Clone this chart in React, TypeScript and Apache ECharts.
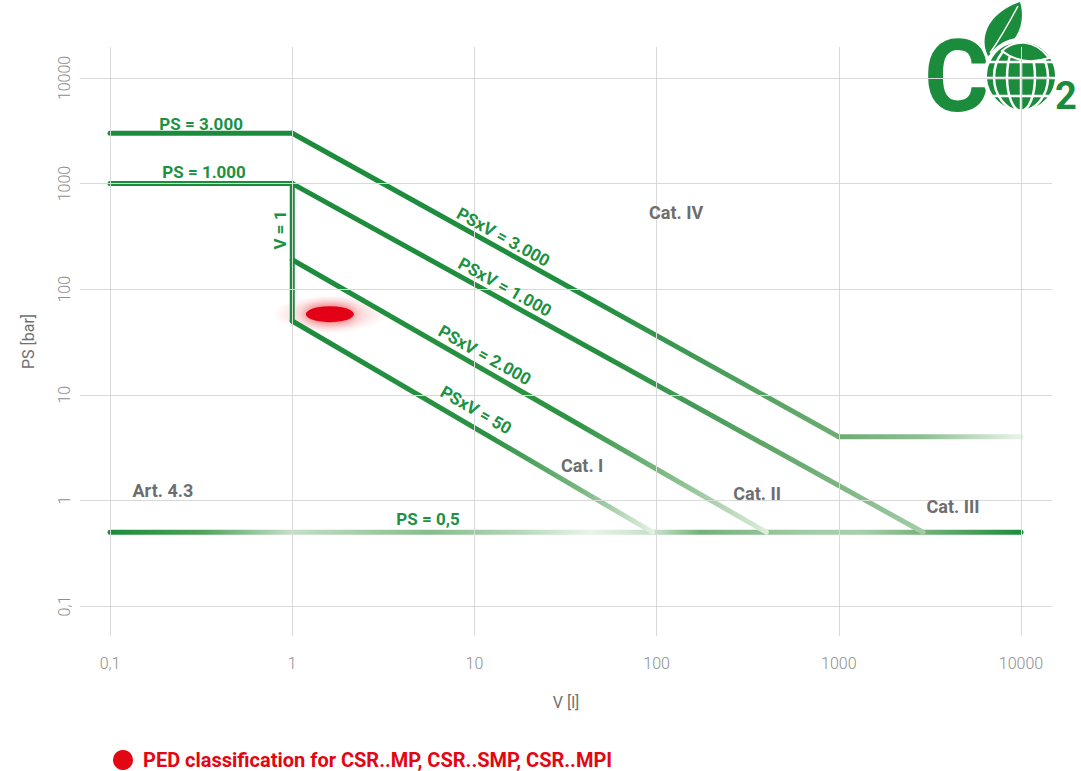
import React, { useEffect, useRef } from 'react';
import * as echarts from 'echarts';

// ---------- data ----------
const xTicks = [0.1, 1, 10, 100, 1000, 10000];
const yTicks = [0.1, 1, 10, 100, 1000, 10000];
const tickLabels = ['0,1', '1', '10', '100', '1000', '10000'];

// axis extents (log scale), a little wider than the tick range
const X_MIN = 0.0684;
const X_MAX = 14790;
const Y_MIN = 0.052;
const Y_MAX = 19660;

// boundary lines [V, PS]
const ps3000 = [[0.1, 3000], [1, 3000]];
const psv3000 = [[1, 3000], [1000, 4]];
const ps4 = [[1000, 4], [10000, 4]];
const ps1000 = [[0.1, 1000], [1, 1000]];
const psv1000 = [[1, 1000], [2900, 0.5]];
const v1 = [[1, 1000], [1, 50]];
const psv2000 = [[1, 190], [400, 0.5]];
const psv50 = [[1, 50], [95, 0.5]];
const ps05 = [[0.1, 0.5], [10000, 0.5]];

// green line labels: [name, V, PS, rotation]
const lineLabelNames = ['PS = 3.000', 'PS = 1.000', 'V = 1', 'PSxV = 3.000', 'PSxV = 1.000', 'PSxV = 2.000', 'PSxV = 50', 'PS = 0,5'];
const lineLabelV = [0.316, 0.328, 0.857, 14.4, 14.7, 11.4, 10.2, 5.56];
const lineLabelPS = [3665, 1288, 364, 312, 105, 23.8, 7.18, 0.667];
const lineLabelRot = [0, 0, 90, -29, -29, -29.5, -30, 0];

// category labels
const catNames = ['Cat. IV', 'Cat. I', 'Cat. II', 'Cat. III', 'Art. 4.3'];
const catV = [128, 39, 356, 4236, 0.195];
const catPS = [538, 2.16, 1.175, 0.885, 1.254];

// PED product classification point
const pedName = 'PED classification for CSR..MP, CSR..SMP, CSR..MPI';
const pedPoint = [[1.61, 58]];

// ---------- styles ----------
const GREEN = '#1b8c3c';
const LABEL_GREEN = '#1c9143';
const CAT_GRAY = '#6e6e6e';
const AXIS_GRAY = '#8e8e8e';
const GRID_GRAY = '#d9d9d9';
const RED = '#e30613';
const FONT = 'Roboto, sans-serif';

echarts.graphic.registerShape(
  'co2leaf',
  echarts.graphic.extendPath('M 988 56 C 978 36 990 12 1020 2 C 1027 26 1015 48 988 56 Z', {})
);
echarts.graphic.registerShape(
  'co2leaf2',
  echarts.graphic.extendPath('M 1002 51 C 1014 40 1034 38 1049 58 C 1031 64 1015 61 1002 51 Z', {})
);

const lg = (stops: [number, string][]) =>
  new echarts.graphic.LinearGradient(0, 0, 1, 0, stops.map(([offset, color]) => ({ offset, color })));
const lgGlobal = (x1: number, x2: number, stops: [number, string][]) =>
  new echarts.graphic.LinearGradient(x1, 0, x2, 0, stops.map(([offset, color]) => ({ offset, color })), true);

const seg = (data: number[][], color: any) => ({
  type: 'line',
  data,
  symbol: 'none',
  showSymbol: false,
  silent: true,
  z: 3,
  lineStyle: { width: 5, color, cap: 'round', join: 'round' },
  emphasis: { disabled: true },
});

const fmtTick = (v: number) => {
  const l = Math.log10(v);
  const r = Math.round(l);
  if (Math.abs(l - r) > 1e-6) return '';
  const i = xTicks.findIndex((t) => Math.abs(Math.log10(t) - r) < 1e-6);
  return i >= 0 ? tickLabels[i] : '';
};

export default function App() {
  const ref = useRef<HTMLDivElement>(null);
  useEffect(() => {
    if (!ref.current) return;
    const chart = echarts.init(ref.current, undefined, { renderer: 'svg' });
    const option: any = {
      animation: false,
      backgroundColor: '#ffffff',
      grid: { left: 80, right: 29, top: 47, bottom: 135 },
      xAxis: {
        type: 'log',
        logBase: 10,
        min: X_MIN,
        max: X_MAX,
        axisLine: { show: false },
        axisTick: { show: false },
        splitLine: { show: false },
        axisLabel: { formatter: fmtTick, color: AXIS_GRAY, fontSize: 16, fontWeight: 300, fontFamily: FONT, margin: 19 },
        name: 'V [l]',
        nameLocation: 'middle',
        nameGap: 58,
        nameTextStyle: { color: '#707070', fontSize: 16, fontFamily: FONT },
      },
      yAxis: {
        type: 'log',
        logBase: 10,
        min: Y_MIN,
        max: Y_MAX,
        axisLine: { show: false },
        axisTick: { show: false },
        splitLine: { show: false },
        axisLabel: { formatter: fmtTick, color: AXIS_GRAY, fontSize: 16, fontWeight: 300, fontFamily: FONT, rotate: 90, margin: 8 },
        name: 'PS [bar]',
        nameLocation: 'middle',
        nameGap: 44,
        nameTextStyle: { color: '#707070', fontSize: 16, fontFamily: FONT },
      },
      legend: {
        data: [{ name: pedName, icon: 'circle', itemStyle: { color: RED, opacity: 1, shadowBlur: 0, shadowColor: 'transparent' } }],
        left: 108,
        top: 745,
        itemWidth: 20,
        itemHeight: 20,
        selectedMode: false,
        textStyle: { color: RED, fontSize: 20, fontWeight: 'bold', fontFamily: FONT, padding: [0, 0, 0, 5] },
      },
      series: [
        {
          type: 'line',
          data: [],
          z: 1,
          silent: true,
          markLine: {
            silent: true,
            symbol: ['none', 'none'],
            label: { show: false },
            lineStyle: { color: GRID_GRAY, width: 1, type: 'solid' },
            emphasis: { disabled: true },
            data: [...xTicks.map((v) => ({ xAxis: v })), ...yTicks.map((v) => ({ yAxis: v }))],
          },
        },
        {
          type: 'scatter',
          data: pedPoint,
          z: 2,
          silent: true,
          symbol: 'circle',
          symbolSize: [116, 36],
          itemStyle: {
            opacity: 1,
            color: new echarts.graphic.RadialGradient(0.5, 0.5, 0.5, [
              { offset: 0, color: 'rgba(227,6,19,0.45)' },
              { offset: 0.5, color: 'rgba(227,6,19,0.15)' },
              { offset: 1, color: 'rgba(227,6,19,0)' },
            ]),
          },
        },
        {
          name: pedName,
          type: 'scatter',
          data: pedPoint,
          z: 2,
          silent: true,
          symbol: 'circle',
          symbolSize: [48, 16],
          itemStyle: { color: RED, opacity: 1, shadowBlur: 12, shadowColor: 'rgba(227,6,19,0.6)' },
        },
        seg(ps05, lgGlobal(110, 1021, [
          [0, GREEN], [0.1, '#4ea25a'], [0.198, '#c3dfc6'], [0.263, '#a9d1ad'], [0.351, '#86bd8b'],
          [0.45, '#b5d8b8'], [0.527, '#e8f4ea'], [0.6, '#c2dfc5'], [0.648, '#74b07a'], [0.69, '#85ba8a'],
          [0.757, '#9fcba3'], [0.823, '#a8cfac'], [0.895, '#73b079'], [1, GREEN],
        ])),
        seg(ps3000, GREEN),
        seg(psv3000, lg([[0, GREEN], [0.55, '#208e3f'], [1, '#6eac73']])),
        seg(ps4, lgGlobal(838, 1021, [[0, '#6eac73'], [0.45, '#8cbf90'], [1, '#e8f3e9']])),
        seg(ps1000, GREEN),
        seg(psv1000, lg([[0, GREEN], [0.5, '#258f40'], [0.8, '#6aaa70'], [1, '#a3cda7']])),
        seg(v1, GREEN),
        seg(psv2000, lg([[0, GREEN], [0.6, '#2f9444'], [0.8, '#85bd89'], [1, '#dcecdd']])),
        seg(psv50, lg([[0, GREEN], [0.55, '#2c9243'], [0.8, '#7ab780'], [1, '#e3f1e4']])),
        {
          type: 'scatter',
          z: 5,
          silent: true,
          symbolSize: 1,
          itemStyle: { color: 'rgba(0,0,0,0)', opacity: 1 },
          label: {
            show: true,
            position: 'inside',
            formatter: '{b}',
            color: LABEL_GREEN,
            opacity: 1,
            fontSize: 17,
            fontWeight: 'bold',
            fontFamily: FONT,
          },
          data: lineLabelNames.map((name, i) => ({
            name,
            value: [lineLabelV[i], lineLabelPS[i]],
            label: { rotate: lineLabelRot[i] },
          })),
        },
        {
          type: 'scatter',
          z: 5,
          silent: true,
          symbolSize: 1,
          itemStyle: { color: 'rgba(0,0,0,0)', opacity: 1 },
          label: {
            show: true,
            position: 'inside',
            formatter: '{b}',
            color: CAT_GRAY,
            opacity: 1,
            fontSize: 18,
            fontWeight: 'bold',
            fontFamily: FONT,
          },
          data: catNames.map((name, i) => ({ name, value: [catV[i], catPS[i]] })),
        },
      ],
      graphic: [
        {
          type: 'group',
          z: 10,
          children: [
            { type: 'text', x: 924, y: 76, style: { text: 'C', font: 'bold 100px Roboto', fill: GREEN, verticalAlign: 'middle', align: 'left' } },
            { type: 'co2leaf', style: { fill: GREEN } },
            { type: 'bezierCurve', shape: { x1: 990, y1: 53, x2: 1018, y2: 6, cpx1: 1002, cpy1: 36 }, style: { stroke: '#ffffff', lineWidth: 1.5, fill: null } },
            { type: 'circle', shape: { cx: 1021, cy: 76, r: 36 }, style: { fill: GREEN, stroke: '#ffffff', lineWidth: 4 } },
            { type: 'ellipse', shape: { cx: 1021, cy: 77, rx: 14, ry: 34 }, style: { fill: null, stroke: '#ffffff', lineWidth: 2.5 } },
            { type: 'ellipse', shape: { cx: 1021, cy: 77, rx: 27, ry: 34 }, style: { fill: null, stroke: '#ffffff', lineWidth: 2.5 } },
            { type: 'line', shape: { x1: 1021, y1: 42, x2: 1021, y2: 111 }, style: { stroke: '#ffffff', lineWidth: 2.5 } },
            { type: 'line', shape: { x1: 988, y1: 62, x2: 1054, y2: 62 }, style: { stroke: '#ffffff', lineWidth: 2.5 } },
            { type: 'line', shape: { x1: 985, y1: 78, x2: 1057, y2: 78 }, style: { stroke: '#ffffff', lineWidth: 2.5 } },
            { type: 'line', shape: { x1: 991, y1: 96, x2: 1051, y2: 96 }, style: { stroke: '#ffffff', lineWidth: 2.5 } },
            { type: 'co2leaf2', style: { fill: GREEN, stroke: '#ffffff', lineWidth: 2 } },
            { type: 'text', x: 1055, y: 96, style: { text: '2', font: 'bold 38px Roboto', fill: GREEN, verticalAlign: 'middle', align: 'left' } },
          ],
        },
      ],
    };
    chart.setOption(option);
    return () => chart.dispose();
  }, []);
  return <div ref={ref} style={{ position: 'fixed', left: 0, top: 0, width: 1081, height: 771 }} />;
}
